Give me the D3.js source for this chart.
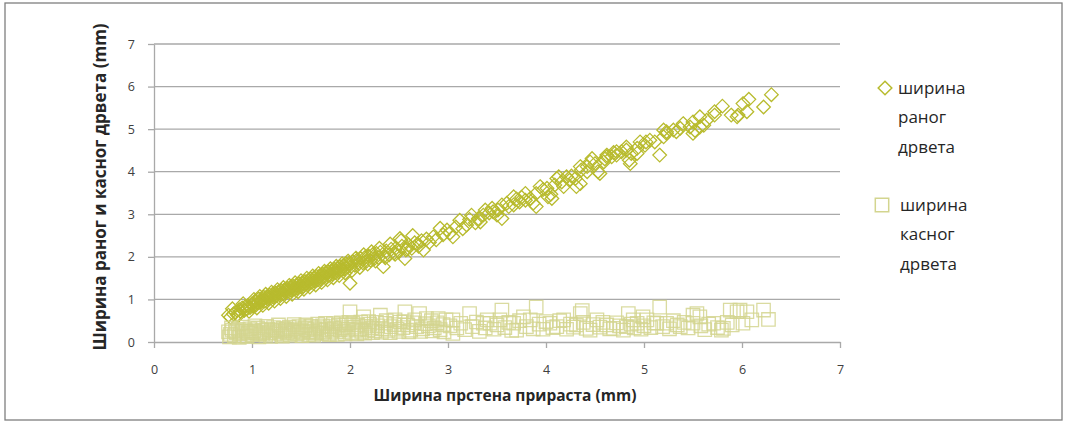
<!DOCTYPE html>
<html lang="sr">
<head>
    <meta charset="UTF-8">
    <title>Ширина раног и касног дрвета</title>
    <script src="https://cdn.jsdelivr.net/npm/d3@7"></script>
    <style>
        body {
            margin: 0;
            background: #fff;
            font-family: "Open Sans", sans-serif;
        }
        .grid line {
            stroke: #a9a9a9;
            stroke-width: 1.3px;
        }
        .axis path, .axis line {
            stroke: #a9a9a9;
            stroke-width: 1.3px;
        }
        .axis text {
            font-family: "Open Sans", sans-serif;
            font-size: 12.5px;
            fill: #404040;
        }
        .axis-title {
            font-weight: bold;
            fill: #262626;
        }
        .legend text {
            font-size: 17px;
            fill: #262626;
        }
    </style>
</head>
<body>
<svg id="chart" width="1065" height="424"></svg>

<script>
    // ширина раног дрвета: [ширина прстена, ширина раног дрвета]
    const earlyWood = [
        [0.76,0.63],[0.78,0.58],[0.81,0.66],[0.83,0.70],[0.85,0.64],[0.87,0.76],[0.88,0.72],[0.90,0.80],
        [0.92,0.74],[0.93,0.83],[0.95,0.78],[0.96,0.86],[0.98,0.81],[1.00,0.90],[1.01,0.84],[1.03,0.95],
        [1.04,0.87],[1.06,0.92],[1.07,1.01],[1.09,0.94],[1.10,0.98],[1.12,1.05],[1.13,0.96],[1.15,1.06],
        [1.16,1.01],[1.18,1.10],[1.19,1.03],[1.21,1.12],[1.22,1.05],[1.24,1.15],[1.25,1.09],[1.27,1.18],
        [1.28,1.11],[1.30,1.21],[1.31,1.13],[1.33,1.22],[1.34,1.17],[1.36,1.26],[1.37,1.19],[1.39,1.28],
        [1.40,1.21],[1.42,1.31],[1.43,1.24],[1.45,1.33],[1.46,1.26],[1.48,1.37],[1.49,1.30],[1.51,1.38],
        [1.52,1.31],[1.54,1.42],[1.55,1.35],[1.57,1.44],[1.58,1.37],[1.60,1.48],[1.61,1.40],[1.63,1.50],
        [1.64,1.43],[1.66,1.54],[1.67,1.46],[1.69,1.55],[1.70,1.48],[1.72,1.59],[1.73,1.52],[1.75,1.62],
        [1.76,1.53],[1.78,1.65],[1.79,1.57],[1.81,1.67],[1.82,1.59],[1.84,1.71],[1.85,1.63],[1.87,1.73],
        [1.88,1.65],[1.90,1.77],[1.91,1.69],[1.93,1.79],[1.94,1.71],[1.96,1.83],[1.97,1.75],[1.99,1.85],
        [2.00,1.38],[2.01,1.77],[2.03,1.89],[2.05,1.80],[2.07,1.92],[2.09,1.84],[2.11,1.96],[2.13,1.86],
        [2.15,1.98],[2.17,1.90],[2.19,2.02],[2.21,1.92],[2.23,2.05],[2.25,1.96],[2.27,2.08],[2.29,1.98],
        [2.31,2.11],[2.34,1.77],[2.35,2.02],[2.37,2.14],[2.40,2.05],[2.42,2.18],[2.45,2.09],[2.47,2.21],
        [2.50,2.12],[2.51,2.43],[2.53,2.25],[2.56,1.96],[2.57,2.16],[2.60,2.28],[2.63,2.20],[2.66,2.33],
        [2.70,2.25],[2.73,2.38],[2.75,2.16],[2.78,2.42],[2.81,2.34],[2.85,2.47],[2.88,2.40],[2.92,2.67],
        [2.95,2.52],[2.99,2.63],[3.02,2.56],[3.05,2.47],[3.08,2.70],[3.12,2.86],[3.15,2.66],[3.19,2.75],
        [3.22,2.88],[3.24,2.98],[3.28,2.80],[3.31,2.90],[3.33,2.82],[3.36,2.98],[3.38,3.10],[3.42,3.03],
        [3.45,3.14],[3.46,3.06],[3.50,2.98],[3.51,3.10],[3.55,3.22],[3.55,2.90],[3.60,3.26],[3.62,3.18],
        [3.67,3.41],[3.67,3.22],[3.70,3.36],[3.73,3.29],[3.75,3.40],[3.79,3.49],[3.79,3.33],[3.84,3.37],
        [3.87,3.26],[3.90,3.18],[3.90,3.49],[3.94,3.65],[3.97,3.58],[4.01,3.61],[4.02,3.41],[4.05,3.47],
        [4.06,3.37],[4.09,3.69],[4.11,3.84],[4.13,3.88],[4.16,3.76],[4.18,3.65],[4.21,3.88],[4.24,3.80],
        [4.26,3.90],[4.30,3.84],[4.31,3.65],[4.35,3.72],[4.35,4.12],[4.36,4.04],[4.42,4.00],[4.42,4.12],
        [4.45,4.23],[4.47,4.31],[4.50,4.19],[4.53,4.00],[4.55,3.96],[4.59,4.23],[4.60,4.30],[4.62,4.39],
        [4.62,4.35],[4.67,4.35],[4.69,4.45],[4.72,4.39],[4.72,4.47],[4.77,4.47],[4.82,4.58],[4.82,4.51],
        [4.85,4.27],[4.86,4.19],[4.87,4.43],[4.93,4.55],[4.93,4.43],[4.96,4.70],[5.01,4.62],[5.02,4.70],
        [5.06,4.74],[5.11,4.70],[5.16,4.39],[5.20,4.82],[5.20,4.98],[5.23,4.94],[5.23,4.90],[5.30,4.98],
        [5.33,4.94],[5.37,5.02],[5.40,5.13],[5.47,5.05],[5.50,4.90],[5.50,5.17],[5.52,4.97],[5.57,5.29],
        [5.57,5.05],[5.61,5.09],[5.64,5.21],[5.72,5.33],[5.72,5.41],[5.80,5.54],[5.89,5.33],[5.95,5.29],
        [5.96,5.33],[6.01,5.60],[6.05,5.41],[6.07,5.70],[6.22,5.52],[6.30,5.81],
        [0.80,0.78],[0.86,0.62],[0.91,0.90],[0.97,0.72],[1.02,1.00],[1.05,0.80],[1.08,1.07],[1.11,0.86],
        [1.14,1.12],[1.17,0.91],[1.20,1.17],[1.23,0.96],[1.26,1.23],[1.29,1.02],[1.32,1.28],[1.35,1.07],
        [1.38,1.33],[1.41,1.12],[1.44,1.39],[1.47,1.18],[1.50,1.44],[1.53,1.24],[1.56,1.50],[1.59,1.29],
        [1.62,1.55],[1.65,1.34],[1.68,1.61],[1.71,1.40],[1.74,1.66],[1.77,1.46],[1.80,1.72],[1.83,1.51],
        [1.86,1.78],[1.89,1.56],[1.92,1.84],[1.95,1.62],[1.98,1.90],[2.02,1.68],[2.06,1.97],[2.10,1.75],
        [2.14,2.05],[2.18,1.83],[2.22,2.12],[2.26,1.90],[2.30,2.20],[2.36,1.98],[2.41,2.30],[2.46,2.06],
        [2.52,2.38],[2.58,2.18],[2.64,2.50],[2.69,2.30]
    ];

    // ширина касног дрвета: [ширина прстена, ширина касног дрвета]
    const lateWood = [
        [0.76,0.24],[0.78,0.18],[0.80,0.28],[0.82,0.15],[0.84,0.22],[0.86,0.30],[0.88,0.19],[0.90,0.25],
        [0.92,0.14],[0.94,0.27],[0.96,0.21],[0.98,0.31],[1.00,0.17],[1.02,0.26],[1.04,0.22],[1.06,0.33],
        [1.08,0.19],[1.10,0.28],[1.12,0.24],[1.14,0.16],[1.16,0.30],[1.18,0.22],[1.20,0.27],[1.22,0.34],
        [1.24,0.20],[1.26,0.29],[1.28,0.24],[1.30,0.18],[1.32,0.32],[1.34,0.26],[1.36,0.21],[1.38,0.35],
        [1.40,0.28],[1.42,0.23],[1.44,0.31],[1.46,0.19],[1.48,0.36],[1.50,0.27],[1.52,0.22],[1.54,0.33],
        [1.56,0.29],[1.58,0.18],[1.60,0.37],[1.62,0.25],[1.64,0.31],[1.66,0.21],[1.68,0.34],[1.70,0.28],
        [1.72,0.38],[1.74,0.24],[1.76,0.30],[1.78,0.20],[1.80,0.36],[1.82,0.27],[1.84,0.32],[1.86,0.23],
        [1.88,0.39],[1.90,0.29],[1.92,0.34],[1.94,0.25],[1.96,0.41],[1.98,0.30],[2.00,0.71],[2.02,0.22],
        [2.04,0.35],[2.06,0.28],[2.08,0.40],[2.10,0.31],[2.12,0.25],[2.14,0.59],[2.16,0.37],[2.18,0.29],
        [2.20,0.42],[2.22,0.33],[2.25,0.26],[2.28,0.38],[2.31,0.63],[2.33,0.31],[2.36,0.44],[2.39,0.27],
        [2.42,0.36],[2.45,0.41],[2.48,0.30],[2.51,0.47],[2.54,0.34],[2.56,0.71],[2.59,0.40],[2.62,0.28],
        [2.65,0.45],[2.68,0.36],[2.71,0.67],[2.74,0.31],[2.77,0.43],[2.80,0.38],[2.83,0.50],[2.86,0.33],
        [2.89,0.45],[2.92,0.29],[2.95,0.41],[2.98,0.52],[3.02,0.38],[3.05,0.52],[3.05,0.20],[3.09,0.33],
        [3.13,0.44],[3.17,0.29],[3.22,0.67],[3.25,0.36],[3.29,0.47],[3.32,0.25],[3.36,0.44],[3.38,0.33],
        [3.40,0.52],[3.43,0.44],[3.47,0.30],[3.50,0.40],[3.53,0.52],[3.55,0.75],[3.58,0.34],[3.62,0.46],
        [3.65,0.27],[3.67,0.44],[3.70,0.28],[3.73,0.50],[3.77,0.59],[3.80,0.36],[3.84,0.52],[3.87,0.31],
        [3.90,0.82],[3.93,0.42],[3.97,0.30],[4.00,0.48],[4.04,0.44],[4.07,0.34],[4.11,0.36],[4.14,0.50],
        [4.18,0.52],[4.21,0.30],[4.25,0.42],[4.28,0.35],[4.31,0.40],[4.35,0.67],[4.37,0.74],[4.38,0.46],
        [4.41,0.32],[4.45,0.28],[4.48,0.41],[4.52,0.52],[4.55,0.35],[4.58,0.46],[4.62,0.40],[4.65,0.31],
        [4.69,0.32],[4.72,0.45],[4.75,0.38],[4.79,0.28],[4.82,0.36],[4.84,0.67],[4.87,0.42],[4.89,0.52],
        [4.90,0.33],[4.93,0.44],[4.97,0.30],[4.99,0.59],[5.00,0.38],[5.03,0.52],[5.07,0.34],[5.10,0.45],
        [5.13,0.44],[5.16,0.82],[5.19,0.36],[5.23,0.44],[5.26,0.31],[5.30,0.50],[5.34,0.40],[5.37,0.36],
        [5.41,0.46],[5.45,0.33],[5.50,0.44],[5.50,0.63],[5.54,0.67],[5.57,0.59],[5.58,0.38],[5.62,0.29],
        [5.66,0.42],[5.71,0.44],[5.75,0.34],[5.79,0.28],[5.81,0.32],[5.85,0.46],[5.88,0.75],[5.90,0.40],
        [5.95,0.71],[5.98,0.75],[6.01,0.44],[6.05,0.71],[6.10,0.52],[6.22,0.75],[6.27,0.53],
        [0.77,0.12],[0.79,0.33],[0.83,0.26],[0.87,0.11],[0.91,0.35],[0.95,0.13],[0.99,0.24],[1.03,0.38],
        [1.07,0.12],[1.11,0.20],[1.15,0.37],[1.19,0.13],[1.23,0.27],[1.27,0.40],[1.31,0.14],[1.35,0.30],
        [1.39,0.16],[1.43,0.41],[1.47,0.25],[1.51,0.15],[1.55,0.40],[1.59,0.24],[1.63,0.16],[1.67,0.42],
        [1.71,0.20],[1.75,0.44],[1.79,0.17],[1.83,0.43],[1.87,0.18],[1.91,0.45],[1.95,0.19],[1.99,0.46],
        [2.03,0.44],[2.07,0.19],[2.11,0.47],[2.15,0.21],[2.19,0.48],[2.23,0.22],[2.27,0.46],[2.32,0.23],
        [2.37,0.50],[2.41,0.22],[2.46,0.52],[2.50,0.25],[2.55,0.48],[2.60,0.24],[2.66,0.52],[2.72,0.25],
        [2.78,0.55],[2.84,0.26],[2.90,0.55],[2.96,0.24]
    ];

    const xTicks = [0, 1, 2, 3, 4, 5, 6, 7];
    const yTicks = [0, 1, 2, 3, 4, 5, 6, 7];
    const xTitle = "Ширина прстена прираста (mm)";
    const yTitle = "Ширина раног и касног дрвета (mm)";
    const legendLabels = [
        ["ширина", "раног", "дрвета"],
        ["ширина", "касног", "дрвета"]
    ];

    const margin = { top: 44, right: 225, bottom: 82, left: 154 },
          width = 1065 - margin.left - margin.right,
          height = 424 - margin.top - margin.bottom;

    const earlyColor = "#b8bb2e",
          lateColor = "#d3d58f";

    const svg = d3.select("#chart");

    // outer frame
    svg.append("rect")
        .attr("x", 5).attr("y", 3)
        .attr("width", 1057).attr("height", 417)
        .attr("fill", "none")
        .attr("stroke", "#7f7f7f")
        .attr("stroke-width", 1.3);

    const g = svg.append("g").attr("transform", `translate(${margin.left},${margin.top})`);

    const x = d3.scaleLinear().domain([0, 7]).range([0, width]);
    const y = d3.scaleLinear().domain([0, 7]).range([height, 0]);

    // horizontal gridlines
    g.append("g")
        .attr("class", "grid")
        .selectAll("line")
        .data(yTicks.filter(t => t > 0))
        .enter()
        .append("line")
        .attr("x1", 0).attr("x2", width)
        .attr("y1", d => y(d)).attr("y2", d => y(d));

    g.append("g")
        .attr("class", "axis")
        .attr("transform", `translate(0,${height})`)
        .call(d3.axisBottom(x).tickValues(xTicks).tickFormat(d3.format("d"))
            .tickSize(6).tickSizeOuter(0).tickPadding(17));

    g.append("g")
        .attr("class", "axis")
        .call(d3.axisLeft(y).tickValues(yTicks).tickFormat(d3.format("d"))
            .tickSize(6).tickSizeOuter(0).tickPadding(13));

    // axis titles
    g.append("text")
        .attr("class", "axis-title")
        .attr("x", 351).attr("y", height + 59)
        .attr("text-anchor", "middle")
        .style("font-size", "15.5px")
        .text(xTitle);

    g.append("text")
        .attr("class", "axis-title")
        .attr("transform", "rotate(-90)")
        .attr("x", -143).attr("y", -48)
        .attr("text-anchor", "middle")
        .style("font-size", "17px")
        .text(yTitle);

    const diamond = "M0,-6.8L6.8,0L0,6.8L-6.8,0Z";
    const square = "M-6.7,-6.7H6.7V6.7H-6.7Z";

    g.append("g")
        .selectAll("path")
        .data(earlyWood)
        .enter()
        .append("path")
        .attr("d", diamond)
        .attr("transform", d => `translate(${x(d[0])},${y(d[1])})`)
        .attr("fill", "none")
        .attr("stroke", earlyColor)
        .attr("stroke-width", 1.3);

    g.append("g")
        .selectAll("path")
        .data(lateWood)
        .enter()
        .append("path")
        .attr("d", square)
        .attr("transform", d => `translate(${x(d[0])},${y(d[1])})`)
        .attr("fill", "none")
        .attr("stroke", lateColor)
        .attr("stroke-opacity", 0.85)
        .attr("stroke-width", 1.3);

    // legend
    const legend = svg.append("g").attr("class", "legend");
    const legendRows = [
        { mark: diamond, color: earlyColor, mx: 885, tx: 898, top: 88 },
        { mark: square, color: lateColor, mx: 882, tx: 900, top: 205 }
    ];
    legendRows.forEach((row, i) => {
        legend.append("path")
            .attr("d", row.mark)
            .attr("transform", `translate(${row.mx},${row.top})`)
            .attr("fill", "none")
            .attr("stroke", row.color)
            .attr("stroke-width", 1.5);
        legendLabels[i].forEach((word, j) => {
            legend.append("text")
                .attr("x", row.tx)
                .attr("y", row.top + j * 29.5)
                .attr("dy", "0.35em")
                .text(word);
        });
    });
</script>
</body>
</html>
